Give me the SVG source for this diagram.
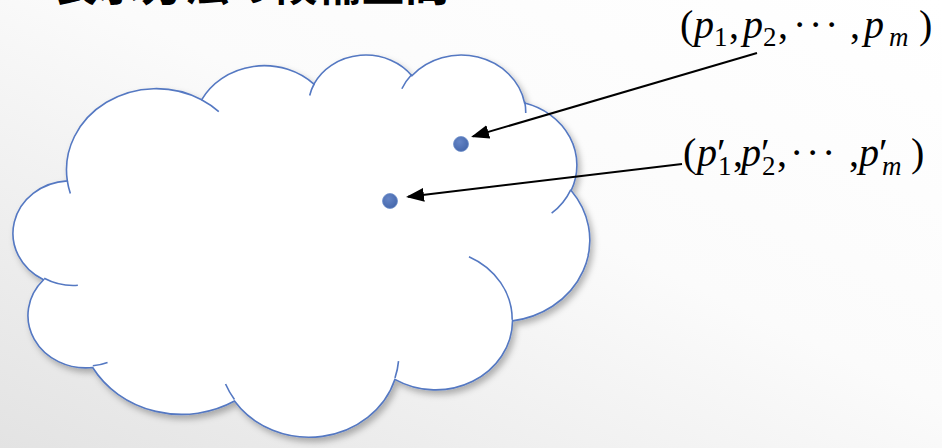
<svg xmlns="http://www.w3.org/2000/svg" width="942" height="448" viewBox="0 0 942 448">
<defs>
<linearGradient id="bg" x1="0" y1="1" x2="1" y2="0">
<stop offset="0" stop-color="#e3e3e3"/>
<stop offset="0.55" stop-color="#fbfbfb"/>
<stop offset="1" stop-color="#ffffff"/>
</linearGradient>
<radialGradient id="dotg" cx="0.4" cy="0.35" r="0.7">
<stop offset="0" stop-color="#6585c6"/>
<stop offset="1" stop-color="#4466aa"/>
</radialGradient>
<filter id="sh" x="-10%" y="-10%" width="125%" height="125%">
<feDropShadow dx="3" dy="4" stdDeviation="3" flood-color="#000" flood-opacity="0.28"/>
</filter>
<marker id="ah" markerUnits="userSpaceOnUse" markerWidth="18" markerHeight="14" refX="16" refY="7" orient="auto">
<path d="M0,0 L18,7 L0,14 Z" fill="#000"/>
</marker>
<style>
.title{font-family:"Noto Sans CJK JP","Noto Sans CJK SC",sans-serif;font-size:44px;font-weight:bold;fill:#000}
.cloud{fill:#fff;stroke:#5478c2;stroke-width:1.6}
.inner{fill:none;stroke:#5478c2;stroke-width:1.6}
.dot{fill:url(#dotg);stroke:#7090cc;stroke-width:0.8}
.conn{stroke:#000;stroke-width:2;fill:none;marker-end:url(#ah)}
.m{font-family:"Liberation Serif","DejaVu Serif",serif;font-size:40px;fill:#000}
.i{font-style:italic}
.s{font-size:27px}
</style>
</defs>
<rect width="942" height="448" fill="url(#bg)"/>
<g id="title">
<text class="title" x="53" y="1">表示方法の候補空間</text>
</g>
<g id="cloud">
<path class="cloud" filter="url(#sh)" d="M67.32,180.87 A89.73,81.26 0 0 1 201.59,99.80 A70.86,64.26 0 0 1 313.88,84.16 A58.00,52.57 0 0 1 411.88,75.72 A64.53,58.32 0 0 1 524.63,103.09 A70.86,64.31 0 0 1 571.14,190.49 A90.02,81.53 0 0 1 512.51,320.89 A76.87,69.56 0 0 1 394.94,379.34 A89.71,81.48 0 0 1 234.51,401.05 A102.58,93.23 0 0 1 92.65,367.49 A57.93,52.33 0 0 1 43.59,279.77 A57.73,52.57 0 0 1 67.32,180.87 Z"/>
<path class="inner" d="M77.86,285.27 A57.73,52.57 0 0 1 44.19,278.22 M107.55,362.40 A57.93,52.33 0 0 1 92.83,365.77 M234.45,399.46 A89.71,81.48 0 0 1 225.55,384.03 M398.53,361.09 A89.71,81.48 0 0 1 394.98,377.97 M468.97,256.77 A76.87,69.56 0 0 1 512.17,319.87 M570.87,189.57 A70.86,64.31 0 0 1 551.63,213.23 M524.71,101.78 A64.53,58.32 0 0 1 525.72,112.95 M401.86,88.75 A64.53,58.32 0 0 1 411.72,74.48 M309.69,95.54 A58.00,52.57 0 0 1 314.46,83.25 M201.52,99.71 A89.73,81.26 0 0 1 218.79,111.63 M70.34,193.42 A89.73,81.26 0 0 1 67.32,180.87"/>
</g>
<g id="dot1"><circle class="dot" cx="461" cy="144" r="7.5"/></g>
<g id="dot2"><circle class="dot" cx="390" cy="201" r="7.5"/></g>
<g id="label1">
<text class="m" y="38"><tspan x="680">(</tspan><tspan class="i" x="694">p</tspan><tspan class="s" x="714" y="46">1</tspan><tspan x="729" y="38">,</tspan><tspan class="i" x="743">p</tspan><tspan class="s" x="763" y="46">2</tspan><tspan x="778" y="38">,</tspan><tspan x="793">·</tspan><tspan x="809">·</tspan><tspan x="825">·</tspan><tspan x="850">,</tspan><tspan class="i" x="864">p</tspan><tspan class="s i" x="889" y="46">m</tspan><tspan x="919" y="38">)</tspan></text>
</g>
<g id="label2">
<text class="m" y="166"><tspan x="683">(</tspan><tspan class="i" x="697">p</tspan><tspan x="717" y="166">′</tspan><tspan class="s" x="718" y="175">1</tspan><tspan x="733" y="166">,</tspan><tspan class="i" x="741">p</tspan><tspan x="761" y="166">′</tspan><tspan class="s" x="762" y="175">2</tspan><tspan x="777" y="166">,</tspan><tspan x="790">·</tspan><tspan x="806">·</tspan><tspan x="822">·</tspan><tspan x="849">,</tspan><tspan class="i" x="859">p</tspan><tspan x="879" y="166">′</tspan><tspan class="s i" x="882" y="175">m</tspan><tspan x="911" y="166">)</tspan></text>
</g>
<g id="connectors">
<line class="conn" x1="757" y1="53" x2="473" y2="136.4"/>
<line class="conn" x1="682" y1="164" x2="408" y2="196.8"/>
</g>
</svg>
